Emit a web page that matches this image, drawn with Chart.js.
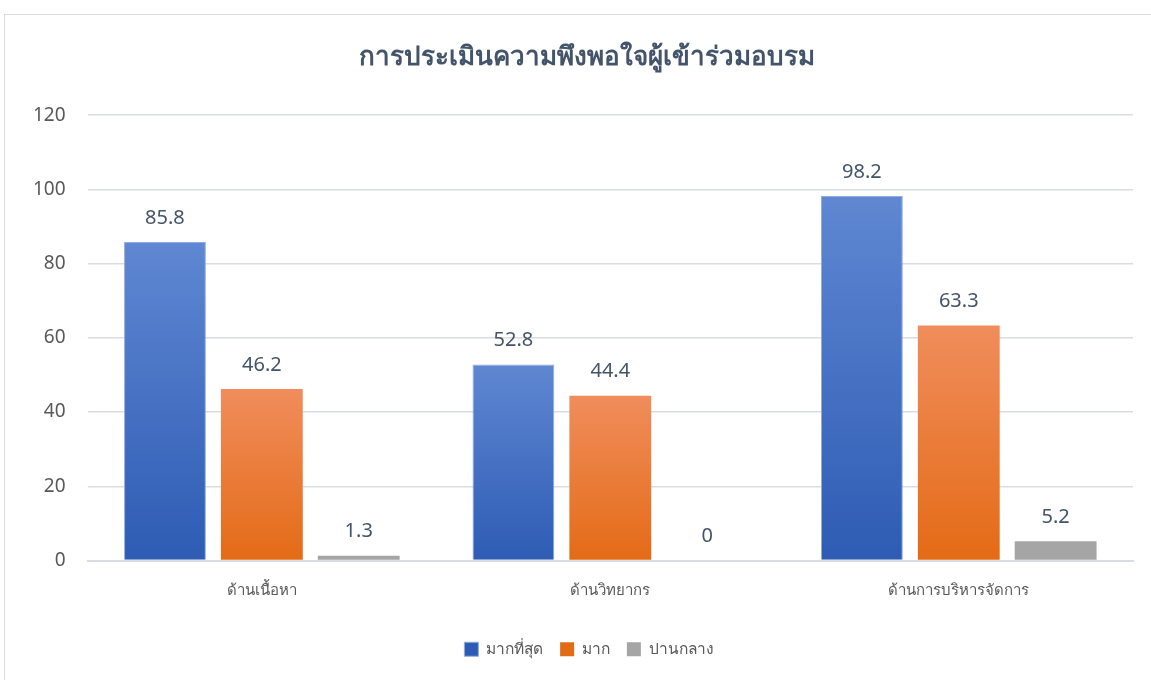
<!DOCTYPE html>
<html>
<head>
<meta charset="utf-8">
<script src="https://cdn.jsdelivr.net/npm/chart.js@4/dist/chart.umd.min.js"></script>
<style>
  body { margin: 0; background: #fff; }
  #wrap { position: relative; width: 1151px; height: 680px; }
  #frame { position: absolute; left: 4px; top: 14px; width: 1200px; height: 700px; border: 1px solid #D9DDE3; box-sizing: border-box; }
  canvas { position: absolute; left: 0; top: 0; }
</style>
</head>
<body>
<div id="wrap">
  <div id="frame"></div>
  <canvas id="bar-chart" width="1151" height="680"></canvas>
</div>
<script>
const categories = ['ด้านเนื้อหา', 'ด้านวิทยากร', 'ด้านการบริหารจัดการ'];
const mostValues = [85.8, 52.8, 98.2];
const muchValues = [46.2, 44.4, 63.3];
const midValues = [1.3, 0, 5.2];
const seriesNames = ['มากที่สุด', 'มาก', 'ปานกลาง'];

const fontFamily = "'Noto Sans', 'Open Sans', sans-serif";

// gradient per bar: lighter on top, darker at the bottom
function barGradient(top, bottom, flat) {
    return function (ctx) {
        const chart = ctx.chart;
        const area = chart.chartArea;
        if (!area || ctx.raw === undefined) return flat;
        const y = chart.scales.y;
        const y0 = y.getPixelForValue(ctx.raw);
        const y1 = y.getPixelForValue(0);
        if (y1 - y0 < 2) return flat;
        const g = chart.ctx.createLinearGradient(0, y0, 0, y1);
        g.addColorStop(0, top);
        g.addColorStop(1, bottom);
        return g;
    };
}

const valueLabels = {
    id: 'valueLabels',
    afterDatasetsDraw(chart) {
        const c = chart.ctx;
        c.save();
        c.font = '20px ' + fontFamily;
        c.fillStyle = '#44546A';
        c.textAlign = 'center';
        c.textBaseline = 'middle';
        chart.data.datasets.forEach((ds, i) => {
            const meta = chart.getDatasetMeta(i);
            meta.data.forEach((el, j) => {
                c.fillText(String(ds.data[j]), el.x, el.y - 24);
            });
        });
        c.restore();
    }
};

// title and legend in the original sit a bit right of centre
const boxShift = {
    id: 'boxShift',
    afterLayout(chart) {
        if (chart.legend) {
            chart.legend.left += 17;
            chart.legend.right += 17;
        }
        if (chart.titleBlock) {
            chart.titleBlock.left += 15;
            chart.titleBlock.right += 15;
        }
    }
};

const data = {
    labels: categories,
    datasets: [{
        label: seriesNames[0],
        data: mostValues,
        backgroundColor: barGradient('#5F87D2', '#2E5CB4', '#4472C4'),
        borderColor: '#8FADE3',
        borderWidth: 1
    }, {
        label: seriesNames[1],
        data: muchValues,
        backgroundColor: barGradient('#F08D5C', '#E46B16', '#ED7D31'),
        borderWidth: 0
    }, {
        label: seriesNames[2],
        data: midValues,
        backgroundColor: '#A5A5A5',
        borderWidth: 0
    }]
};

const options = {
    responsive: false,
    animation: false,
    layout: { padding: { left: 11, right: 18, top: 8, bottom: 13 } },
    categoryPercentage: 0.834,
    barPercentage: 0.845,
    scales: {
        x: {
            grid: { display: false, drawTicks: false },
            border: { color: '#D9DDE3', width: 2 },
            ticks: { color: '#595959', font: { size: 15, family: fontFamily }, padding: 21 },
            afterFit: (scale) => { scale.height += 4; }
        },
        y: {
            min: 0,
            max: 120,
            ticks: { stepSize: 20, color: '#595959', font: { size: 19, family: fontFamily }, padding: 22 },
            grid: { color: '#D9DDE3', lineWidth: 1.5, drawTicks: false },
            border: { display: false }
        }
    },
    plugins: {
        title: {
            display: true,
            text: 'การประเมินความพึงพอใจผู้เข้าร่วมอบรม',
            color: '#44546A',
            font: { size: 26, weight: 'bold', family: fontFamily },
            padding: { top: 34, bottom: 42 }
        },
        legend: {
            position: 'bottom',
            labels: {
                color: '#595959',
                font: { size: 15.5, family: fontFamily },
                boxWidth: 14,
                boxHeight: 14,
                padding: 17
            }
        },
        tooltip: { enabled: false }
    }
};

const ctx = document.getElementById('bar-chart').getContext('2d');
new Chart(ctx, { type: 'bar', data: data, options: options, plugins: [valueLabels, boxShift] });
</script>
</body>
</html>
